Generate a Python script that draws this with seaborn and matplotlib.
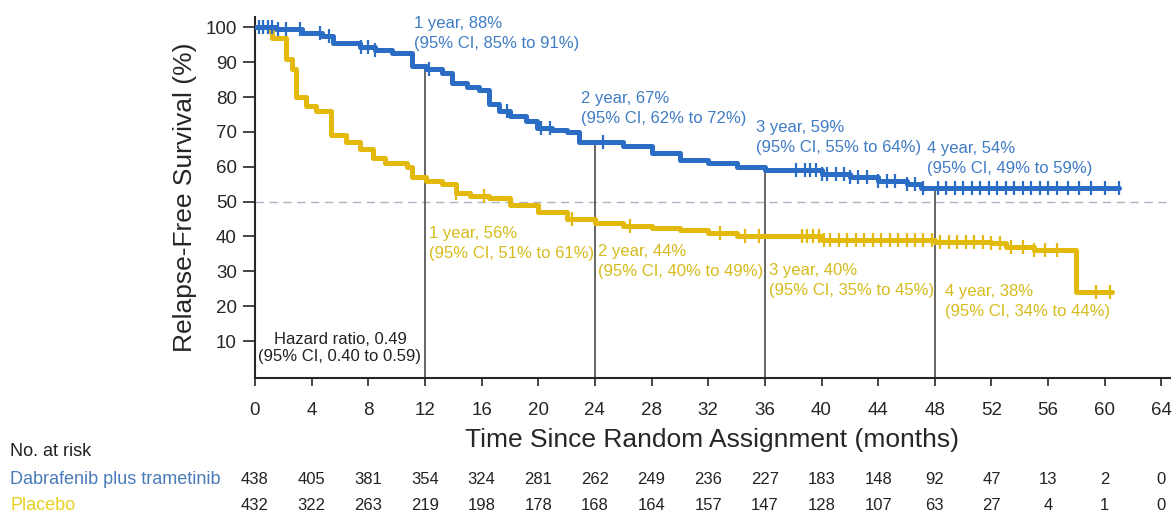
import numpy as np
import matplotlib
matplotlib.use("Agg")
import matplotlib.pyplot as plt
import matplotlib.transforms as mtransforms
import seaborn as sns

# Kaplan-Meier step values (months, % relapse-free)
dt_time = [0, 1.5, 3.3, 4.7, 5.5, 7.4, 8.5, 9.7, 11.1, 12.1, 13.2, 13.9, 15.0,
           15.8, 16.5, 17.2, 18.0, 19.1, 19.9, 21.0, 22.0, 22.9, 26, 28, 30,
           32, 34, 36, 40, 42, 44, 46, 47, 61]
dt_surv = [100, 99.5, 98.5, 97.5, 95.5, 94.5, 93.5, 92.5, 89, 88, 87, 84, 83,
           82, 78, 76, 74.5, 73, 71, 70.5, 70, 67, 66, 64, 62,
           61, 60, 59, 58, 57, 56, 55, 54, 54]

pb_time = [0, 1.0, 1.2, 2.2, 2.6, 2.9, 3.6, 4.3, 5.4, 6.4, 7.4, 8.3, 9.2, 10.7,
           11.1, 12.1, 13.2, 14.2, 15.2, 16.5, 18, 20, 22, 24, 26, 28, 30, 32,
           34, 40, 48, 52, 53, 55, 58, 60.5]
pb_surv = [100, 99, 97, 91, 88, 80, 77.5, 76, 69, 67, 65, 62.5, 61, 60,
           57, 56, 55, 52.5, 51.5, 51, 49, 47, 45, 44, 43, 42.5, 42, 41,
           40, 39, 38.5, 38, 37, 36, 24, 24]

# censoring ticks (months)
dt_cens = [0.3, 0.6, 0.9, 1.2, 1.6, 2.2, 3.2, 4.6, 5.2, 7.5, 8.0, 8.5, 12.3,
           17.8, 20.2, 20.8, 24.6, 38.2, 38.8, 39.2, 39.6, 40.0, 40.4, 41.0,
           41.6, 42.0, 42.6, 43.2, 44.0, 44.6, 45.2, 46.0, 46.6, 47.2, 48.2,
           48.8, 49.4, 50.0, 50.6, 51.2, 51.8, 52.4, 53.0, 53.6, 54.2, 54.8,
           55.4, 56.0, 56.6, 57.4, 58.2, 59.0, 60.0, 61.0]
pb_cens = [14.2, 16.2, 22.4, 26.5, 32.8, 34.6, 35.6, 38.6, 39.0, 39.4, 39.8,
           40.2, 40.6, 41.2, 41.8, 42.4, 43.0, 43.6, 44.2, 44.8, 45.4, 46.0,
           46.6, 47.2, 47.8, 48.4, 49.0, 49.6, 50.2, 50.8, 51.4, 52.0, 52.6,
           53.4, 54.2, 55.0, 55.8, 56.6, 59.4, 60.4]

milestones = [12, 24, 36, 48]
dt_ms = [88, 67, 59, 54]
dt_ci = ["85% to 91%", "62% to 72%", "55% to 64%", "49% to 59%"]
pb_ms = [56, 44, 40, 38]
pb_ci = ["51% to 61%", "40% to 49%", "35% to 45%", "34% to 44%"]

x_ticks = list(range(0, 65, 4))
risk_dt = [438, 405, 381, 354, 324, 281, 262, 249, 236, 227, 183, 148, 92, 47, 13, 2, 0]
risk_pb = [432, 322, 263, 219, 198, 178, 168, 164, 157, 147, 128, 107, 63, 27, 4, 1, 0]

blue = "#2b6cc4"
gold = "#e3b90c"
blue_txt = "#3f7cc4"
gold_txt = "#d6bb1c"

sns.set_style("ticks")
narrow = ["Liberation Sans Narrow", "Liberation Sans", "DejaVu Sans"]
plt.rcParams["font.family"] = ["Liberation Sans", "DejaVu Sans"]

fig = plt.figure(figsize=(11.75, 5.12), dpi=100)
ax = fig.add_axes([0.217, 0.2617, 0.7787, 0.7053])


def step_at(times, surv, c):
    i = np.searchsorted(times, c, side="right") - 1
    return np.asarray(surv)[i]


# reference lines
ax.axhline(50, color="#a9b3c2", lw=1, ls=(0, (6, 4)), zorder=1)
for m, v in zip(milestones, dt_ms):
    ax.plot([m, m], [-0.6, v], color="#5a5a5a", lw=1.3, zorder=2)

sns.lineplot(x=dt_time, y=dt_surv, drawstyle="steps-post", color=blue, lw=3.6,
             ax=ax, zorder=4)
sns.lineplot(x=pb_time, y=pb_surv, drawstyle="steps-post", color=gold, lw=3.6,
             ax=ax, zorder=3)
sns.scatterplot(x=dt_cens, y=step_at(dt_time, dt_surv, dt_cens), marker="|",
                s=110, linewidth=1.6, color=blue, ax=ax, zorder=5)
sns.scatterplot(x=pb_cens, y=step_at(pb_time, pb_surv, pb_cens), marker="|",
                s=110, linewidth=1.6, color=gold, ax=ax, zorder=4)

ax.set_xlim(0, 64.6)
ax.set_ylim(-0.6, 103)
ax.set_xticks(x_ticks)
ax.set_yticks(range(10, 101, 10))
ax.tick_params(axis="x", length=6, width=1.2, pad=11, labelsize=13.5)
ax.tick_params(axis="y", length=9, width=1.2, pad=4, labelsize=13.5)
for lab in ax.get_xticklabels() + ax.get_yticklabels():
    lab.set_family(narrow)
for s in ["top", "right"]:
    ax.spines[s].set_visible(False)
for s in ["left", "bottom"]:
    ax.spines[s].set_linewidth(1.5)

ax.set_ylabel("Relapse-Free Survival (%)", fontsize=19, family=narrow, labelpad=6)
ax.set_xlabel("Time Since Random Assignment (months)", fontsize=19,
              family=narrow, labelpad=7)

# milestone annotations
dt_pos = [(11.2, 103.2), (23.0, 81.7), (35.4, 73.4), (47.45, 67.4)]
pb_pos = [(12.3, 42.9), (24.2, 37.8), (36.3, 32.4), (48.7, 26.4)]
for i, m in enumerate(milestones):
    yr = m // 12
    ax.text(dt_pos[i][0], dt_pos[i][1],
            f"{yr} year, {dt_ms[i]}%\n(95% CI, {dt_ci[i]})",
            color=blue_txt, fontsize=12, va="top", ha="left",
            linespacing=1.4, clip_on=False)
    ax.text(pb_pos[i][0], pb_pos[i][1],
            f"{yr} year, {pb_ms[i]}%\n(95% CI, {pb_ci[i]})",
            color=gold_txt, fontsize=12, va="top", ha="left",
            linespacing=1.4, clip_on=False)

ax.text(6.0, 12.6, "Hazard ratio, 0.49\n(95% CI, 0.40 to 0.59)", color="#222222",
        fontsize=12, va="top", ha="center", linespacing=1.15)

# number at risk table
trans = mtransforms.blended_transform_factory(ax.transData, fig.transFigure)
fig.text(10 / 1175, 1 - 452 / 512, "No. at risk", fontsize=13, color="#222222",
         va="center", ha="left")
fig.text(10 / 1175, 1 - 479 / 512, "Dabrafenib plus trametinib", fontsize=13,
         color="#4a7bb9", va="center", ha="left")
fig.text(10 / 1175, 1 - 505 / 512, "Placebo", fontsize=13, color="#e6d21e",
         va="center", ha="left")
for x, a, b in zip(x_ticks, risk_dt, risk_pb):
    ax.text(x, 1 - 479 / 512, str(a), transform=trans, fontsize=12,
            family=narrow, ha="center", va="center", color="#222222", clip_on=False)
    ax.text(x, 1 - 505 / 512, str(b), transform=trans, fontsize=12,
            family=narrow, ha="center", va="center", color="#222222", clip_on=False)

fig.savefig("out.png", dpi=100)
